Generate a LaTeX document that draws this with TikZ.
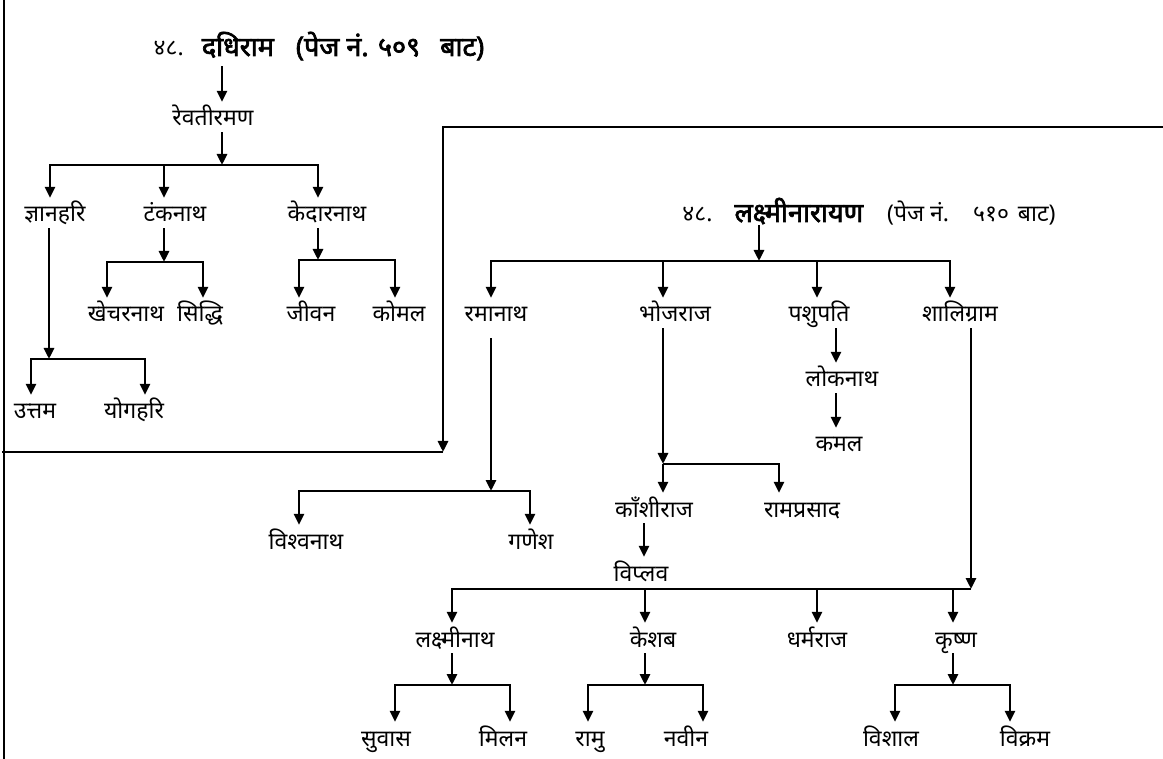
\documentclass[tikz,border=0pt]{standalone}
\usepackage{fontspec}
\newfontfamily\dev[Script=Devanagari]{Noto Sans}
\newfontfamily\devb[Script=Devanagari,FakeBold=2.5]{Noto Sans}
\usetikzlibrary{arrows.meta}
\newcommand{\bigb}{\devb\fontsize{27}{30}\selectfont}
\begin{document}
\begin{tikzpicture}[x=1pt,y=-1pt,
  lbl/.style={font=\dev\fontsize{23}{26}\selectfont, inner sep=0pt, minimum height=30pt, text height=20pt, text depth=2pt},
  ln/.style={line width=2.8pt},
  arr/.style={ln, -{Triangle[length=11pt,width=10pt]}}]
\useasboundingbox (0,0) rectangle (1163,759);
% frame
\coordinate (f1) at (1163,127);
\coordinate (f2) at (443,127);
\coordinate (f3) at (443,452);
\coordinate (f4) at (2,452);
\coordinate (f5) at (4,0);
\coordinate (f6) at (4,759);
\draw[arr] (f1) -- (f2) -- (f3);
\draw[ln] (f3) -- (f4);
\draw[ln] (f5) -- (f6);
% ---------- tree 1
\node[lbl] (t1) at (319,47) {४८.\hspace{18pt}{\bigb दधिराम}\hspace{22pt}{\bigb (पेज नं. ५०९\hspace{20pt}बाट)}};
\node[lbl] (rev) at (213,117) {रेवतीरमण};
\node[lbl] (gyan) at (55,213) {ज्ञानहरि};
\node[lbl] (tank) at (175,213) {टंकनाथ};
\node[lbl] (kedar) at (327,213) {केदारनाथ};
\node[lbl] (khech) at (126,313) {खेचरनाथ};
\node[lbl] (siddhi) at (200,313) {सिद्धि};
\node[lbl] (jivan) at (311,313) {जीवन};
\node[lbl] (komal) at (399,313) {कोमल};
\node[lbl] (uttam) at (35,410) {उत्तम};
\node[lbl] (yog) at (134,410) {योगहरि};
\coordinate (c1) at (222,165);
\coordinate (b1l) at (50,165);
\coordinate (b1r) at (318,165);
\coordinate (b1m) at (164,165);
\draw[arr] ([yshift=-4pt]t1.south -| c1) -- (rev.north -| c1);
\draw[arr] (rev.south -| c1) -- (c1);
\draw[arr] (c1) -- (b1l) -- (b1l |- gyan.north);
\draw[arr] (c1) -- (b1r) -- (b1r |- kedar.north);
\draw[arr] (b1m) -- (b1m |- tank.north);
\coordinate (g) at (49,359);
\coordinate (gl) at (31,359);
\coordinate (gr) at (145,359);
\draw[arr] (gyan.south -| g) -- (g);
\draw[arr] (g) -- (gl) -- (gl |- uttam.north);
\draw[arr] (g) -- (gr) -- (gr |- yog.north);
\coordinate (tk) at (164,262);
\coordinate (tkl) at (107,262);
\coordinate (tkr) at (203,262);
\draw[arr] (tank.south -| tk) -- (tk);
\draw[arr] (tk) -- (tkl) -- (tkl |- khech.north);
\draw[arr] (tk) -- (tkr) -- (tkr |- siddhi.north);
\coordinate (kd) at (318,260);
\coordinate (kdl) at (299,260);
\coordinate (kdr) at (395,260);
\draw[arr] (kedar.south -| kd) -- (kd);
\draw[arr] (kd) -- (kdl) -- (kdl |- jivan.north);
\draw[arr] (kd) -- (kdr) -- (kdr |- komal.north);
% ---------- tree 2
\node[lbl] (t2) at (869,213) {४८.\hspace{22pt}{\bigb लक्ष्मीनारायण}\hspace{24pt}(पेज नं.\hspace{24pt}५१०\hspace{9pt}बाट)};
\node[lbl] (rama) at (496,313) {रमानाथ};
\node[lbl] (bhoj) at (675,313) {भोजराज};
\node[lbl] (pashu) at (819,313) {पशुपति};
\node[lbl] (shali) at (960,313) {शालिग्राम};
\node[lbl] (loka) at (842,378) {लोकनाथ};
\node[lbl] (kamal) at (839,443) {कमल};
\node[lbl] (kashi) at (654,508) {काँशीराज};
\node[lbl] (ramp) at (802,508) {रामप्रसाद};
\node[lbl] (vish) at (306,540) {विश्वनाथ};
\node[lbl] (gan) at (531,540) {गणेश};
\node[lbl] (viplav) at (641,572) {विप्लव};
\node[lbl] (laxmi) at (455,638) {लक्ष्मीनाथ};
\node[lbl] (keshab) at (653,638) {केशब};
\node[lbl] (dharma) at (817,638) {धर्मराज};
\node[lbl] (krishna) at (956,638) {कृष्ण};
\node[lbl] (suvas) at (386,737) {सुवास};
\node[lbl] (milan) at (503,737) {मिलन};
\node[lbl] (ramu) at (590,737) {रामु};
\node[lbl] (navin) at (686,737) {नवीन};
\node[lbl] (vishal) at (891,737) {विशाल};
\node[lbl] (vikram) at (1025,737) {विक्रम};
\coordinate (c2) at (759,261);
\coordinate (b2l) at (491,261);
\coordinate (b2r) at (950,261);
\coordinate (b2a) at (663,261);
\coordinate (b2b) at (817,261);
\draw[arr] ([yshift=3pt]t2.south -| c2) -- (c2);
\draw[arr] (c2) -- (b2l) -- (b2l |- rama.north);
\draw[arr] (c2) -- (b2r) -- (b2r |- shali.north);
\draw[arr] (b2a) -- (b2a |- bhoj.north);
\draw[arr] (b2b) -- (b2b |- pashu.north);
% ramanath
\coordinate (rm) at (491,491);
\coordinate (rml) at (299,491);
\coordinate (rmr) at (530,491);
\draw[arr] ([yshift=-10pt]rama.south -| rm) -- (rm);
\draw[arr] (rm) -- (rml) -- (rml |- vish.north);
\draw[arr] (rm) -- (rmr) -- (rmr |- gan.north);
% bhojraj
\coordinate (bj) at (663,464);
\coordinate (bjr) at (779,464);
\draw[arr] (bhoj.south -| bj) -- (bj);
\draw[arr] (bj) -- (bj |- kashi.north);
\draw[arr] (bj) -- (bjr) -- (bjr |- ramp.north);
\coordinate (kv) at (644,540);
\draw[arr] (kashi.south -| kv) -- (viplav.north -| kv);
% pashupati
\coordinate (px) at (836,350);
\draw[arr] (pashu.south -| px) -- (loka.north -| px);
\draw[arr] (loka.south -| px) -- (kamal.north -| px);
% shaligram and viplav bus
\coordinate (sh) at (971,589);
\coordinate (vl) at (452,589);
\coordinate (vk) at (645,589);
\coordinate (vd) at (817,589);
\coordinate (vkr) at (953,589);
\draw[arr] (shali.south -| sh) -- (sh);
\draw[arr] (sh) -- (vl) -- (vl |- laxmi.north);
\draw[arr] (vk) -- (vk |- keshab.north);
\draw[arr] (vd) -- (vd |- dharma.north);
\draw[arr] (vkr) -- (vkr |- krishna.north);
% grandchildren
\coordinate (lx) at (452,685);
\coordinate (lxl) at (395,685);
\coordinate (lxr) at (510,685);
\draw[arr] (laxmi.south -| lx) -- (lx);
\draw[arr] (lx) -- (lxl) -- (lxl |- suvas.north);
\draw[arr] (lx) -- (lxr) -- (lxr |- milan.north);
\coordinate (ks) at (645,685);
\coordinate (ksl) at (588,685);
\coordinate (ksr) at (703,685);
\draw[arr] (keshab.south -| ks) -- (ks);
\draw[arr] (ks) -- (ksl) -- (ksl |- ramu.north);
\draw[arr] (ks) -- (ksr) -- (ksr |- navin.north);
\coordinate (kr) at (953,685);
\coordinate (krl) at (895,685);
\coordinate (krr) at (1010,685);
\draw[arr] (krishna.south -| kr) -- (kr);
\draw[arr] (kr) -- (krl) -- (krl |- vishal.north);
\draw[arr] (kr) -- (krr) -- (krr |- vikram.north);
\end{tikzpicture}
\end{document}
